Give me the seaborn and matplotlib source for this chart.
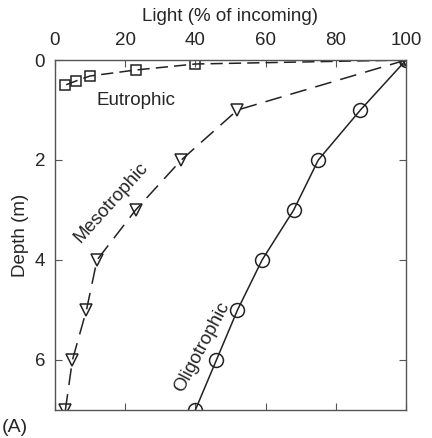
import matplotlib
matplotlib.use("Agg")
import matplotlib.pyplot as plt
import seaborn as sns
import pandas as pd

eu_depth = [0, 0.08, 0.2, 0.32, 0.42, 0.5]
eu_light = [100, 40, 23, 10, 6, 3]
meso_depth = [0, 1, 2, 3, 4, 5, 6, 7]
meso_light = [100, 52, 36, 23, 12, 9, 5, 3]
oligo_depth = [0, 1, 2, 3, 4, 5, 6, 7]
oligo_light = [100, 87, 75, 68, 59, 52, 46, 40]

sns.set_style("ticks")
plt.rcParams['font.family'] = ['Liberation Sans', 'DejaVu Sans']

fig = plt.figure(figsize=(4.32, 4.38), dpi=100)
ax = fig.add_axes([0.127, 0.064, 0.813, 0.799])

df_o = pd.DataFrame({"light": oligo_light, "depth": oligo_depth})
df_m = pd.DataFrame({"light": meso_light, "depth": meso_depth})
df_e = pd.DataFrame({"light": eu_light, "depth": eu_depth})

sns.lineplot(data=df_o, x="light", y="depth", sort=False, estimator=None, ax=ax,
             color="#222222", lw=1.1, marker="o", markersize=10,
             markerfacecolor="none", markeredgecolor="#222222", markeredgewidth=1.1)
sns.lineplot(data=df_m, x="light", y="depth", sort=False, estimator=None, ax=ax,
             color="#222222", lw=1.1, marker="v", markersize=8,
             markerfacecolor="none", markeredgecolor="#222222", markeredgewidth=1.1,
             dashes=False, linestyle=(0, (11, 6)))
sns.lineplot(data=df_e, x="light", y="depth", sort=False, estimator=None, ax=ax,
             color="#222222", lw=1.1, marker="s", markersize=7.5,
             markerfacecolor="none", markeredgecolor="#222222", markeredgewidth=1.1,
             dashes=False, linestyle=(0, (8, 4)))

ax.set_xlim(0, 100)
ax.set_ylim(7, 0)
ax.set_xticks([0, 20, 40, 60, 80, 100])
ax.set_yticks([0, 2, 4, 6])
ax.xaxis.set_label_position("top")
ax.tick_params(axis="x", top=True, bottom=True, labeltop=True, labelbottom=False,
               direction="in", length=5, color="#555555", labelsize=13.5, pad=8)
ax.tick_params(axis="y", left=True, right=True, direction="in", length=5,
               color="#555555", labelsize=13.5, pad=7)
for s in ax.spines.values():
    s.set_color("#555555")
    s.set_linewidth(1.0)
    s.set_visible(True)
ax.set_xlabel("Light (% of incoming)", fontsize=13.5, labelpad=8)
ax.set_ylabel("Depth (m)", fontsize=13.5, labelpad=4)

ax.text(23, 0.8, "Eutrophic", fontsize=13.5, ha="center", va="center")
ax.text(16, 2.86, "Mesotrophic", fontsize=13.5, ha="center", va="center", rotation=48)
ax.text(42, 5.74, "Oligotrophic", fontsize=13.5, ha="center", va="center", rotation=62)
fig.text(0.005, 0.005, "(A)", fontsize=14, ha="left", va="bottom")

fig.savefig("out.png", dpi=100)
